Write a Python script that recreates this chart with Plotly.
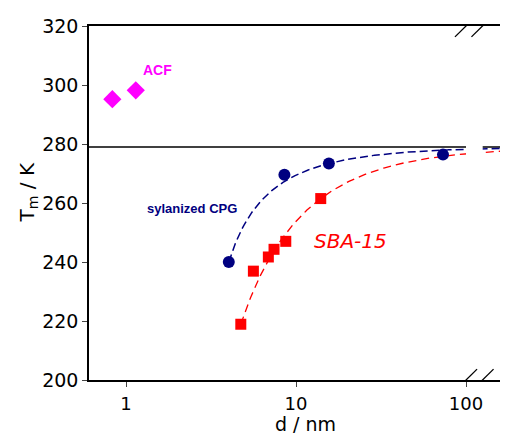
import numpy as np
import plotly.graph_objects as go

# Data
acf_d = [0.83, 1.14]
acf_T = [295.2, 298.2]
cpg_d = [4.02, 8.54, 15.6, 73.2]
cpg_T = [240.0, 269.6, 273.4, 276.4]
sba_d = [4.73, 5.61, 6.87, 7.42, 8.70, 13.97]
sba_T = [218.9, 236.9, 241.7, 244.3, 247.0, 261.5]
T_bulk = 279.0
# Gibbs-Thomson fit parameters  T = T0 - K/(d - t)
cpg_fit = dict(K=75.7, t=2.08)
sba_fit = dict(K=228.0, t=0.934)
x_ticks = [1, 10, 100]
y_ticks = [200, 220, 240, 260, 280, 300, 320]

XMIN, XMAX = 0.605, 176.6
LMIN, LMAX = np.log10(XMIN), np.log10(XMAX)

def gt(d, K, t):
    return T_bulk - K / (d - t)

def px(logd):
    return (logd - LMIN) / (LMAX - LMIN)

fig = go.Figure()

dc = np.logspace(np.log10(cpg_d[0]), LMAX, 300)
ds = np.logspace(np.log10(sba_d[0]), LMAX, 300)
fig.add_trace(go.Scatter(x=dc, y=gt(dc, **cpg_fit), mode="lines",
                         line=dict(color="#000080", width=1.5, dash="8px,4px")))
fig.add_trace(go.Scatter(x=ds, y=gt(ds, **sba_fit), mode="lines",
                         line=dict(color="#FF0000", width=1.3, dash="8px,5px")))

fig.add_trace(go.Scatter(x=acf_d, y=acf_T, mode="markers",
                         marker=dict(symbol="diamond", size=14, color="#FF00FF")))
fig.add_trace(go.Scatter(x=cpg_d, y=cpg_T, mode="markers",
                         marker=dict(symbol="circle", size=12, color="#000080")))
fig.add_trace(go.Scatter(x=sba_d, y=sba_T, mode="markers",
                         marker=dict(symbol="square", size=11, color="#FF0000")))

shapes = [
    dict(type="line", xref="paper", yref="y", x0=0, x1=1, y0=T_bulk, y1=T_bulk,
         line=dict(color="black", width=1.5), layer="below"),
    # axis break mask
    dict(type="rect", xref="paper", yref="y", x0=px(2.0), x1=px(2.098), y0=272, y1=282,
         fillcolor="white", line=dict(width=0), layer="above"),
]
# break slashes (top and bottom)
for yb in (200, 320):
    for x0 in (1.935, 2.032):
        shapes.append(dict(type="line", xref="paper", yref="y",
                           x0=px(x0), x1=px(x0 + 0.13), y0=yb - 3.7, y1=yb + 3.7,
                           line=dict(color="black", width=1.3)))

fig.update_layout(
    width=500, height=427,
    margin=dict(l=81, r=0, t=18, b=55),
    plot_bgcolor="white", paper_bgcolor="white",
    showlegend=False,
    shapes=shapes,
    font=dict(family="DejaVu Sans", color="black"),
    xaxis=dict(type="log", range=[LMIN, LMAX], automargin=False,
               tickvals=x_ticks, ticktext=[str(v) for v in x_ticks],
               showgrid=False, zeroline=False, showline=True, linecolor="black",
               linewidth=1.5, mirror=True, ticks="outside", ticklen=5,
               ticklabelstandoff=2, tickfont=dict(size=18)),
    yaxis=dict(range=[200, 320], tickvals=y_ticks, showgrid=False, zeroline=False,
               automargin=False,
               showline=True, linecolor="black", linewidth=1.5, ticks="outside",
               ticklen=5, tickfont=dict(size=19)),
    annotations=[
        dict(x=np.log10(1.52), y=305, xref="x", yref="y", text="<b>ACF</b>",
             showarrow=False, font=dict(family="Liberation Sans", size=14, color="#FF00FF")),
        dict(x=np.log10(2.43), y=258.2, xref="x", yref="y", text="<b>sylanized CPG</b>",
             showarrow=False, font=dict(family="Liberation Sans", size=13, color="#000080")),
        dict(x=np.log10(20.8), y=247.1, xref="x", yref="y", text="<i>SBA-15</i>",
             showarrow=False, font=dict(family="DejaVu Sans", size=20, color="#FF0000")),
        dict(x=px(np.log10(11.3)), y=-0.124, xref="paper", yref="paper", text="d / nm",
             showarrow=False, yanchor="middle",
             font=dict(family="DejaVu Sans", size=19, color="black")),
        dict(x=(28 - 89) / 419, y=0.53, xref="paper", yref="paper", text="T<sub>m</sub> / K",
             showarrow=False, textangle=-90, xanchor="center",
             font=dict(family="DejaVu Sans", size=20, color="black")),
    ],
)

fig.write_html("out.html")
